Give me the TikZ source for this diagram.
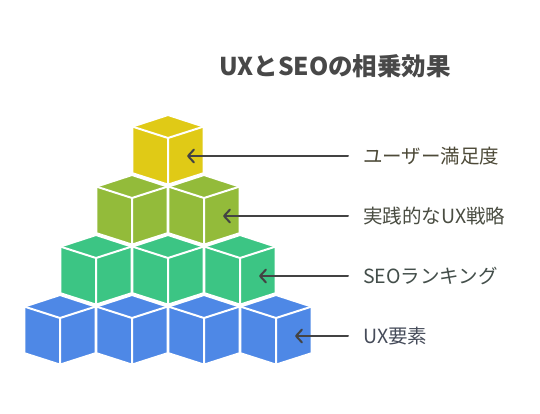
\documentclass[tikz,border=0pt]{standalone}
\usepackage{fontspec}
\setmainfont{Noto Sans CJK JP}
\usetikzlibrary{arrows.meta}
\definecolor{cyel}{HTML}{E0CA16}
\definecolor{coli}{HTML}{93BB3A}
\definecolor{cgrn}{HTML}{3CC584}
\definecolor{cblu}{HTML}{4E88E6}
\definecolor{arrc}{HTML}{434343}
\definecolor{ttlc}{HTML}{484848}
\definecolor{lyel}{HTML}{4D4A38}
\definecolor{loli}{HTML}{4A4D42}
\definecolor{lgrn}{HTML}{434E4A}
\definecolor{lblu}{HTML}{464C5A}
\newcommand\mycube[3]{%
  \filldraw[fill=#3, draw=white, line width=2pt, line join=round]
    (#1,#2) -- (#1+35.6,#2+11.6) -- (#1+35.6,#2+58.2) -- (#1,#2+69.6)
    -- (#1-35.6,#2+58.2) -- (#1-35.6,#2+11.6) -- cycle;
  \draw[white, line width=2pt, line join=round]
    (#1-35.6,#2+11.6) -- (#1,#2+23) -- (#1+35.6,#2+11.6)
    (#1,#2+23) -- (#1,#2+69.6);
}
\begin{document}
\begin{tikzpicture}[x=1pt,y=-1pt,
  arr/.style={draw=arrc, line width=2pt, line cap=round, line join=round,
    -{Straight Barb[length=6pt,width=13pt,line cap=round,line join=round]}},
  lbl/.style={anchor=west, inner sep=0pt, font=\fontsize{19.5}{23}\selectfont},
  ttl/.style={inner sep=0pt, text=ttlc, font=\fontsize{24.5}{29}\selectfont\bfseries}]
\fill[white] (0,0) rectangle (540,414);
\useasboundingbox (0,0) rectangle (540,414);
% blue row
\mycube{60}{295}{cblu}
\mycube{132}{295}{cblu}
\mycube{204}{295}{cblu}
\mycube{276}{295}{cblu}
% green row
\mycube{96}{235}{cgrn}
\mycube{168}{235}{cgrn}
\mycube{240}{235}{cgrn}
% olive row
\mycube{132}{175}{coli}
\mycube{204}{175}{coli}
% yellow
\mycube{168}{115}{cyel}
% title
\node[ttl] (title) at (335,66) {UXとSEOの相乗効果};
% labels
\node[lbl, text=lyel] (l1) at (363,156) {ユーザー満足度};
\node[lbl, text=loli] (l2) at (363,216) {実践的なUX戦略};
\node[lbl, text=lgrn] (l3) at (363,276) {SEOランキング};
\node[lbl, text=lblu] (l4) at (363,336) {UX要素};
\coordinate (t1) at (187,156);
\coordinate (t2) at (223,216);
\coordinate (t3) at (259,276);
\coordinate (t4) at (295,336);
\draw[arr, shorten <=15pt] (l1.west) -- (t1);
\draw[arr, shorten <=15pt] (l2.west) -- (t2);
\draw[arr, shorten <=15pt] (l3.west) -- (t3);
\draw[arr, shorten <=15pt] (l4.west) -- (t4);
\end{tikzpicture}
\end{document}
